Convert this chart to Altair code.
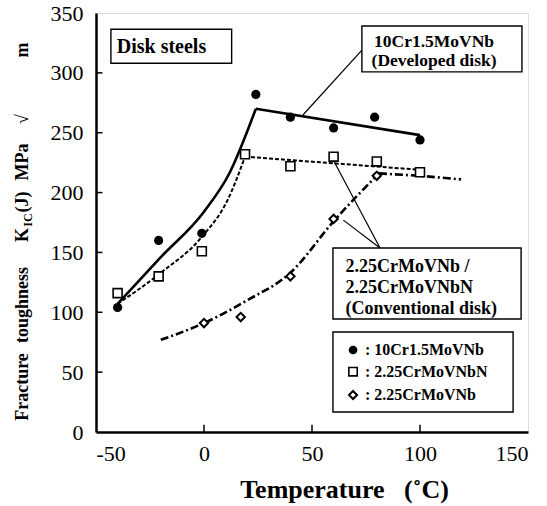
import altair as alt
import pandas as pd

cr10_T = [-40, -21, -1, 24, 40, 60, 79, 100]
cr10_K = [104, 160, 166, 282, 263, 254, 263, 244]
nbn_T = [-40, -21, -1, 19, 40, 60, 80, 100]
nbn_K = [116, 130, 151, 232, 222, 230, 226, 217]
nb_T = [0, 17, 40, 60, 80]
nb_K = [91, 96, 130, 178, 214]

# ---- trend curves ----
cr10_curve_T = [-40, -20, 0, 12, 24]
cr10_curve_K = [107, 146, 184, 217, 270]
cr10_line_T = [24, 100]
cr10_line_K = [270, 248]
nbn_curve_T = [-40, -20, -1, 11, 19]
nbn_curve_K = [107, 133, 163, 194, 230]
nbn_line_T = [19, 100]
nbn_line_K = [230, 219]
nb_curve_T = [-20, 0, 20, 40, 60, 81]
nb_curve_K = [77, 91, 110, 133, 176, 216]
nb_line_T = [81, 100, 119]
nb_line_K = [216, 214, 211]

x_ticks = [-50, 0, 50, 100, 150]
y_ticks = [0, 50, 100, 150, 200, 250, 300, 350]
inner_x_ticks = [0, 50, 100]
inner_y_ticks = [50, 100, 150, 200, 250, 300]

FONT = "Liberation Serif"
NB = "\u00a0"
xs = alt.Scale(domain=[-50, 150], nice=False, zero=False)
ys = alt.Scale(domain=[0, 350], nice=False, zero=False)

XAXIS = alt.Axis(
    values=x_ticks, title="Temperature" + NB * 3 + "(\u02daC)", ticks=False,
    labelExpr="'' + datum.value", titleX=248, titleAlign="center",
    labelPadding=11, titlePadding=12, domainWidth=2.5, domainColor="black",
    grid=False, labelFontSize=22, titleFontSize=26, labelFont=FONT,
    titleFont=FONT, titleFontWeight="bold", labelColor="black",
    titleColor="black")
YAXIS = alt.Axis(
    values=y_ticks, title="", ticks=False, labelPadding=13,
    domainWidth=2.5, domainColor="black", grid=False, labelFontSize=22,
    labelFont=FONT, labelColor="black")


def X(f="x"):
    return alt.X(f"{f}:Q", scale=xs, axis=XAXIS)


def Y(f="y"):
    return alt.Y(f"{f}:Q", scale=ys, axis=YAXIS)


def df(xv, yv):
    return pd.DataFrame({"x": xv, "y": yv})


# inward tick marks
tx = pd.DataFrame({"x": inner_x_ticks})
ty = pd.DataFrame({"y": inner_y_ticks})
xtick_layer = alt.Chart(tx).mark_rule(color="black", strokeWidth=1.5).encode(
    x=X(), y=alt.Y(datum=0, scale=ys, axis=YAXIS), y2=alt.datum(6))
ytick_layer = alt.Chart(ty).mark_rule(color="black", strokeWidth=1.5).encode(
    y=Y(), x=alt.X(datum=-50, scale=xs, axis=XAXIS), x2=alt.datum(-47))


def line(xv, yv, interp, width, dash=None):
    kw = dict(color="black", strokeWidth=width, interpolate=interp)
    if dash:
        kw["strokeDash"] = dash
    return alt.Chart(df(xv, yv)).mark_line(**kw).encode(x=X(), y=Y())


DASH = [4, 2]
DASHDOT = [8, 3, 2, 3]
lines = [
    line(cr10_curve_T, cr10_curve_K, "monotone", 2.6),
    line(cr10_line_T, cr10_line_K, "linear", 2.6),
    line(nbn_curve_T, nbn_curve_K, "monotone", 2, DASH),
    line(nbn_line_T, nbn_line_K, "linear", 2, DASH),
    line(nb_curve_T, nb_curve_K, "monotone", 2.6, DASHDOT),
    line(nb_line_T, nb_line_K, "linear", 2.6, DASHDOT),
]

circles = alt.Chart(df(cr10_T, cr10_K)).mark_point(
    shape="circle", filled=True, color="black", size=85, opacity=1).encode(x=X(), y=Y())
squares = alt.Chart(df(nbn_T, nbn_K)).mark_point(
    shape="square", filled=True, fill="white", stroke="black", strokeWidth=1.6,
    size=80, opacity=1).encode(x=X(), y=Y())
diamonds = alt.Chart(df(nb_T, nb_K)).mark_point(
    shape="diamond", filled=True, fill="white", stroke="black", strokeWidth=2,
    size=70, opacity=1).encode(x=X(), y=Y())

# annotation leader lines
lead = pd.DataFrame({
    "x": [73.1, 81.5, 81.5],
    "y": [319, 153.7, 153.7],
    "x2": [45.8, 59.9, 64.5],
    "y2": [264.8, 227, 177],
})
leaders = alt.Chart(lead).mark_rule(color="black", strokeWidth=1.2).encode(
    x=X(), y=Y(), x2="x2:Q", y2="y2:Q")

# boxes
boxes = pd.DataFrame({
    "x": [-43.1, 73.1, 59.7, 59.7],
    "x2": [12.8, 147.2, 146.8, 143.1],
    "y": [336.4, 339.2, 153.7, 83.5],
    "y2": [308.0, 300.8, 94.4, 16.7],
})
box_layer = alt.Chart(boxes).mark_rect(fill="white", stroke="black", strokeWidth=1.4).encode(
    x=X(), x2="x2:Q", y=Y(), y2="y2:Q")


def text(xv, yv, labels, size, align="left"):
    d = pd.DataFrame({"x": xv, "y": yv, "t": labels})
    return alt.Chart(d).mark_text(font=FONT, fontWeight="bold", fontSize=size,
                                  align=align, baseline="middle", color="black").encode(
        x=X(), y=Y(), text="t:N")


texts = [
    text([-40.4], [322], ["Disk steels"], 20),
    text([106.5, 106.5], [325.5, 310], ["10Cr1.5MoVNb", "(Developed disk)"], 17.5, "center"),
    text([65.5, 65.5, 65.5], [138, 120, 103],
         ["2.25CrMoVNb /", "2.25CrMoVNbN", "(Conventional disk)"], 18),
    text([74.5, 74.5, 74.5], [68.5, 50.4, 30.9],
         [": 10Cr1.5MoVNb", ": 2.25CrMoVNbN", ": 2.25CrMoVNb"], 16),
]

leg_c = alt.Chart(df([69], [68.5])).mark_point(
    shape="circle", filled=True, color="black", size=75, opacity=1).encode(x=X(), y=Y())
leg_s = alt.Chart(df([69], [50.4])).mark_point(
    shape="square", filled=True, fill="white", stroke="black", strokeWidth=1.6,
    size=70, opacity=1).encode(x=X(), y=Y())
leg_d = alt.Chart(df([69], [30.9])).mark_point(
    shape="diamond", filled=True, fill="white", stroke="black", strokeWidth=2,
    size=65, opacity=1).encode(x=X(), y=Y())

# y-axis title pieces (rotated)
ytitle = []
for t, py, size, dx in [("Fracture", 374, 18, 0), ("toughness", 292, 18, 0),
                        ("K", 222, 18, 0), ("IC", 207, 12, 5), ("(J)", 189, 18, 0),
                        ("MPa", 149, 18, 0), ("\u221a", 106, 18, 0), ("m", 37, 18, 0)]:
    ytitle.append(alt.Chart(pd.DataFrame({"t": [t]})).mark_text(
        font=FONT, fontWeight="bold", fontSize=size, angle=270, align="center",
        baseline="middle", color="black").encode(
        x=alt.value(-73 + dx), y=alt.value(py), text="t:N"))

chart = alt.layer(
    xtick_layer, ytick_layer, *lines, leaders, circles, squares, diamonds,
    box_layer, *texts, leg_c, leg_s, leg_d, *ytitle
).properties(
    width=432, height=419,
    autosize=alt.AutoSizeParams(type="none"),
    padding={"left": 96, "top": 13, "right": 19, "bottom": 74},
).configure_view(stroke="black", strokeWidth=2).configure(background="white")

chart.save("out.html", embed_options={"renderer": "svg", "actions": False})
